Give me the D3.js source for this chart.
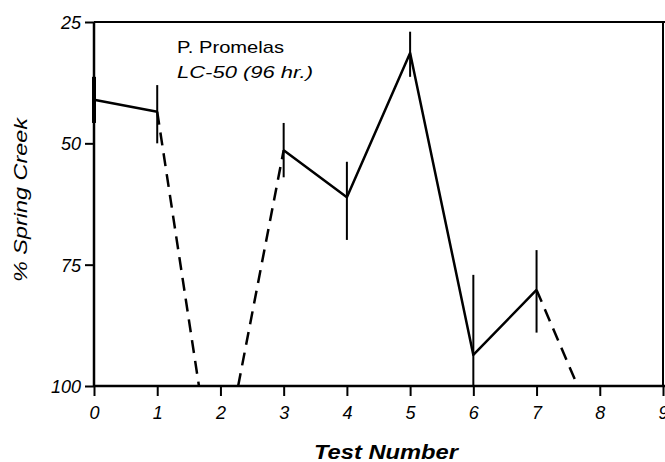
<!DOCTYPE html>
<html>
<head>
<meta charset="utf-8">
<script src="https://cdn.jsdelivr.net/npm/d3@7"></script>
<style>
  body { margin: 0; background: #fff; }
  text { font-family: "Liberation Sans", Arial, sans-serif; fill: #000; }
</style>
</head>
<body>
<div id="chart"></div>
<script>
// test numbers and LC-50 values (% Spring Creek)
const tests = [0, 1, 3, 4, 5, 6, 7];
const lc50 = [41, 43.5, 51.4, 61.1, 31.4, 93.6, 80.2];
const errLow = [36.3, 38, 45.8, 53.8, 27, 77.1, 72];
const errHigh = [45.8, 50, 57, 69.9, 36.3, 100, 89];

// solid runs (indices into tests) and dashed runs to off-scale (100%)
const solidRuns = [[0, 1], [2, 3, 4, 5, 6]];
const dashedRuns = [
  [[1, 43.5], [1.66, 100]],
  [[2.28, 100], [3, 51.4]],
  [[7, 80.2], [7.65, 100]]
];

const xTicks = [0, 1, 2, 3, 4, 5, 6, 7, 8, 9];
const yTicks = [25, 50, 75, 100];

const width = 665, height = 462;
const margin = { top: 22, right: 2, bottom: 76, left: 94 };

const svg = d3.select("#chart").append("svg")
  .attr("width", width)
  .attr("height", height);

const x = d3.scaleLinear().domain([0, 9]).range([margin.left, width - margin.right]);
const y = d3.scaleLinear().domain([25, 100]).range([margin.top, height - margin.bottom]);

// frame: top and right edges
svg.append("line")
  .attr("x1", x(0)).attr("x2", width)
  .attr("y1", y(25)).attr("y2", y(25))
  .attr("stroke", "#000").attr("stroke-width", 2);
svg.append("line")
  .attr("x1", x(9)).attr("x2", x(9))
  .attr("y1", y(25)).attr("y2", y(100))
  .attr("stroke", "#000").attr("stroke-width", 2);

// axes
const xAxis = svg.append("g")
  .attr("transform", "translate(0," + y(100) + ")")
  .call(d3.axisBottom(x).tickValues(xTicks).tickSize(10).tickPadding(4).tickFormat(d3.format("d")));
const yAxis = svg.append("g")
  .attr("transform", "translate(" + x(0) + ",0)")
  .call(d3.axisLeft(y).tickValues(yTicks).tickSize(9).tickPadding(4).tickFormat(d3.format("d")));

[xAxis, yAxis].forEach(function (g) {
  g.select(".domain").remove();
  g.selectAll(".tick line").attr("stroke-width", 2);
  g.selectAll(".tick text")
    .style("font-size", "18px")
    .style("font-style", "italic")
    .attr("fill", "#000");
});
xAxis.selectAll(".tick text").attr("dy", "1.05em");
yAxis.selectAll(".tick text").attr("dy", "0.36em");

// axis lines
svg.append("line")
  .attr("x1", x(0)).attr("x2", width)
  .attr("y1", y(100)).attr("y2", y(100))
  .attr("stroke", "#000").attr("stroke-width", 2.5);
svg.append("line")
  .attr("x1", x(0)).attr("x2", x(0))
  .attr("y1", y(25)).attr("y2", y(100))
  .attr("stroke", "#000").attr("stroke-width", 2.5);

// error bars
svg.append("g").selectAll("line")
  .data(tests)
  .enter().append("line")
  .attr("x1", d => x(d)).attr("x2", d => x(d))
  .attr("y1", (d, i) => y(errLow[i]))
  .attr("y2", (d, i) => y(errHigh[i]))
  .attr("stroke", "#000")
  .attr("stroke-width", (d, i) => i === 0 ? 4 : 2);

const line = d3.line().x(d => x(d[0])).y(d => y(d[1]));

// solid segments
solidRuns.forEach(function (run) {
  svg.append("path")
    .attr("d", line(run.map(i => [tests[i], lc50[i]])))
    .attr("fill", "none")
    .attr("stroke", "#000")
    .attr("stroke-width", 2.5)
    .attr("stroke-linejoin", "round");
});

// dashed segments
dashedRuns.forEach(function (run) {
  svg.append("path")
    .attr("d", line(run))
    .attr("fill", "none")
    .attr("stroke", "#000")
    .attr("stroke-width", 2.5)
    .attr("stroke-dasharray", "13,8");
});

// annotation
svg.append("text")
  .attr("x", 177).attr("y", 53)
  .attr("textLength", 107).attr("lengthAdjust", "spacingAndGlyphs")
  .style("font-size", "17px")
  .text("P. Promelas");
svg.append("text")
  .attr("x", 177).attr("y", 78)
  .attr("textLength", 136).attr("lengthAdjust", "spacingAndGlyphs")
  .style("font-size", "17px")
  .style("font-style", "italic")
  .text("LC-50 (96 hr.)");

// axis titles
svg.append("text")
  .attr("x", 314).attr("y", 459)
  .attr("textLength", 144).attr("lengthAdjust", "spacingAndGlyphs")
  .style("font-size", "20px")
  .style("font-style", "italic")
  .style("font-weight", "bold")
  .text("Test Number");
svg.append("text")
  .attr("transform", "translate(27,282) rotate(-90)")
  .attr("textLength", 164).attr("lengthAdjust", "spacingAndGlyphs")
  .style("font-size", "18px")
  .style("font-style", "italic")
  .text("% Spring Creek");
</script>
</body>
</html>
